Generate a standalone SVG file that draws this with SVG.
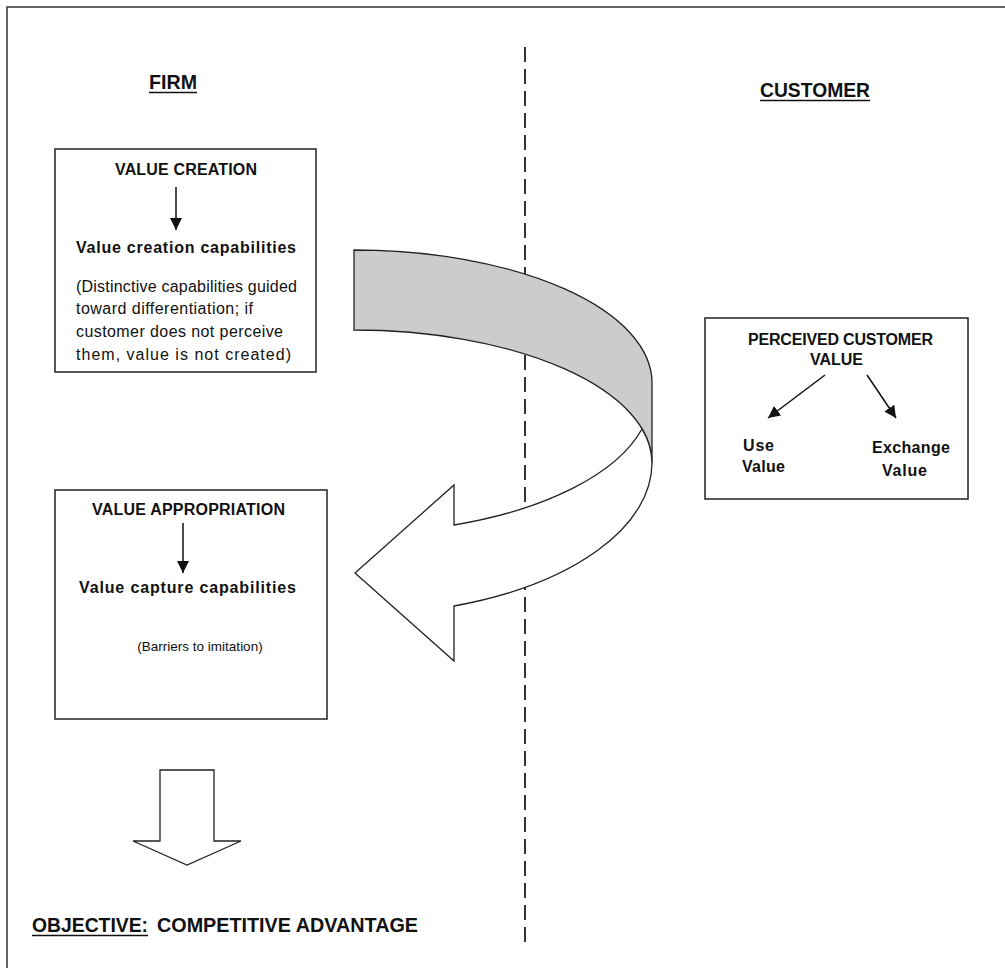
<svg xmlns="http://www.w3.org/2000/svg" width="1005" height="968" viewBox="0 0 1005 968">
<defs>
<style>
.frame{fill:none;stroke:#333;stroke-width:1.5}
.box{fill:#fff;stroke:#222;stroke-width:1.5}
.t{font-family:"Liberation Sans",Arial,sans-serif;fill:#111}
.b{font-weight:bold;font-size:16px}
.r{font-size:16px}
.s{font-size:13.5px}
.h{font-family:"Liberation Sans Narrow","Liberation Sans",Arial,sans-serif;font-weight:bold;font-size:21px;fill:#111}
.ul{stroke:#111;stroke-width:1.5}
.arr{stroke:#111;stroke-width:1.5;fill:none}
.ribbon{stroke:#222;stroke-width:1.3;stroke-linejoin:miter}
.dash{stroke:#333;stroke-width:2;stroke-dasharray:15 7;fill:none}
</style>
<marker id="ah" viewBox="0 0 12 12" refX="12" refY="6" markerWidth="12" markerHeight="12" markerUnits="userSpaceOnUse" orient="auto">
<path d="M0,0 L12,6 L0,12 Z" fill="#111"/>
</marker>
</defs>
<rect x="0" y="0" width="1005" height="968" fill="#fff"/>
<path class="frame" d="M7,968 V7 H1005"/>
<line class="dash" x1="525" y1="47" x2="525" y2="946"/>

<g id="header-firm">
<text class="h" x="149" y="89" textLength="48" lengthAdjust="spacingAndGlyphs">FIRM</text>
<line class="ul" x1="149" y1="92.5" x2="197" y2="92.5"/>
</g>
<g id="header-customer">
<text class="h" x="760" y="97" textLength="110" lengthAdjust="spacingAndGlyphs">CUSTOMER</text>
<line class="ul" x1="760" y1="100.5" x2="870" y2="100.5"/>
</g>

<g id="value-creation">
<rect class="box" x="55" y="149" width="261" height="223"/>
<text class="t b" x="115" y="175" textLength="142">VALUE CREATION</text>
<text class="t b" x="76" y="253" textLength="220">Value creation capabilities</text>
<text class="t r" x="76" y="292" textLength="221">(Distinctive capabilities guided</text>
<text class="t r" x="76" y="314" textLength="177">toward differentiation; if</text>
<text class="t r" x="76" y="337" textLength="207">customer does not perceive</text>
<text class="t r" x="76" y="360" textLength="215">them, value is not created)</text>
</g>

<g id="value-appropriation">
<rect class="box" x="55" y="490" width="272" height="229"/>
<text class="t b" x="92" y="515" textLength="193">VALUE APPROPRIATION</text>
<text class="t b" x="79" y="593" textLength="217">Value capture capabilities</text>
<text class="t s" x="200" y="651" text-anchor="middle">(Barriers to imitation)</text>
</g>

<g id="perceived-customer-value">
<rect class="box" x="705" y="318" width="263" height="181"/>
<text class="t b" x="748" y="345" textLength="185">PERCEIVED CUSTOMER</text>
<text class="t b" x="810" y="365" textLength="53">VALUE</text>
<text class="t b" x="743" y="451" textLength="31">Use</text>
<text class="t b" x="742" y="472" textLength="43">Value</text>
<text class="t b" x="872" y="453" textLength="78">Exchange</text>
<text class="t b" x="882" y="476" textLength="45">Value</text>
</g>

<g id="objective">
<text class="h" x="32" y="932" textLength="116" lengthAdjust="spacingAndGlyphs">OBJECTIVE:</text>
<line class="ul" x1="32" y1="935.5" x2="148" y2="935.5"/>
<text class="h" x="157" y="932" textLength="261" lengthAdjust="spacingAndGlyphs">COMPETITIVE ADVANTAGE</text>
</g>

<g id="connectors">
<line class="arr" x1="176" y1="187" x2="176" y2="230" marker-end="url(#ah)"/>
<line class="arr" x1="183" y1="523" x2="183" y2="573" marker-end="url(#ah)"/>
<line class="arr" x1="825" y1="375" x2="768" y2="418" marker-end="url(#ah)"/>
<line class="arr" x1="867" y1="375" x2="896" y2="418" marker-end="url(#ah)"/>
<g id="curved-arrow">
<path class="ribbon" fill="#cccccc" d="M354,250 A298,133 0 0 1 652,383 L652,463 A298,133 0 0 0 354,330 Z"/>
<path class="ribbon" fill="#ffffff" d="M642,429 A298,139 0 0 1 454,525 L454,485 L355,573 L454,661 L454,606 A298,152 0 0 0 652,463 A298,133 0 0 0 642,429 Z"/>
</g>
<path class="ribbon" fill="#ffffff" d="M160,770 H214 V841 H241 L187,865 L133,841 H160 Z"/>
</g>
</svg>
